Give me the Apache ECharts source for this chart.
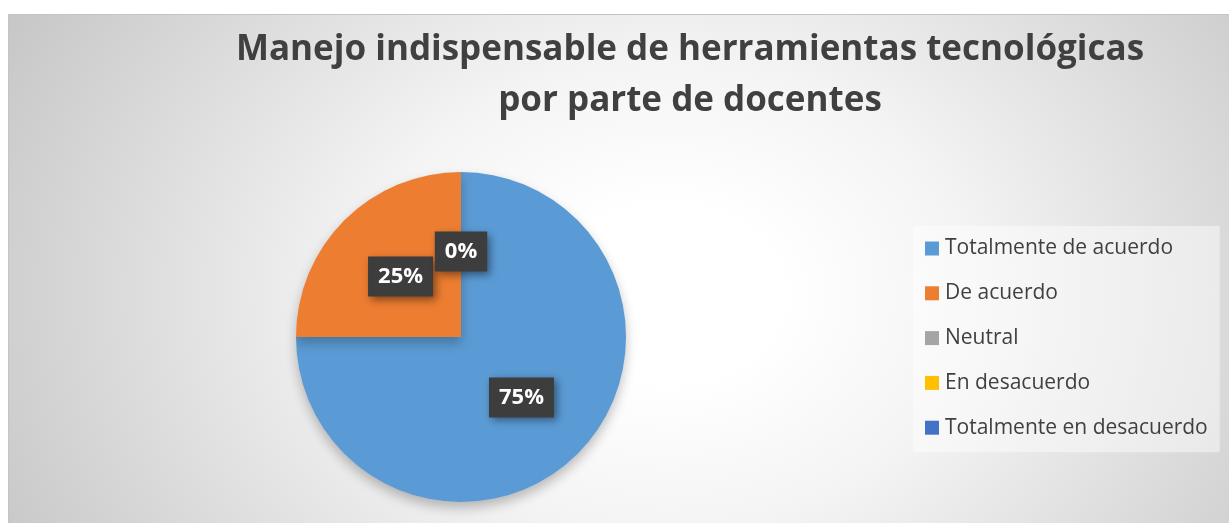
<!DOCTYPE html>
<html>
<head>
<meta charset="utf-8">
<script src="https://cdn.jsdelivr.net/npm/echarts@6/dist/echarts.min.js"></script>
<style>
html,body{margin:0;padding:0;background:#fff;width:1229px;height:523px;overflow:hidden;}
#bg{position:absolute;left:8px;top:14px;width:1221px;height:509px;border-top:1px solid #c4c4c4;border-left:1px solid #c4c4c4;box-sizing:border-box;
background:radial-gradient(ellipse 62% 115% at 54% 55%, #ffffff 15%, #f4f4f4 40%, #c6c6c6 100%);}
#chart{position:absolute;left:0;top:0;width:1229px;height:523px;}
</style>
</head>
<body>
<div id="bg"></div>
<div id="chart"></div>
<script>
const titleLines = ['Manejo indispensable de herramientas tecnológicas', 'por parte de docentes'];
const categories = ['Totalmente de acuerdo', 'De acuerdo', 'Neutral', 'En desacuerdo', 'Totalmente en desacuerdo'];
const values = [75, 25, 0, 0, 0];
const colors = ['#5B9BD5', '#ED7D31', '#A5A5A5', '#FFC000', '#4472C4'];

const chart = echarts.init(document.getElementById('chart'), null, {renderer: 'canvas'});
const data = categories.map((c, i) => ({
  name: c,
  value: values[i],
  label: {show: i < 3}
}));
chart.setOption({
  backgroundColor: 'transparent',
  color: colors,
  title: {
    text: titleLines.join('\n'),
    left: 685,
    top: 20,
    textAlign: 'center',
    textStyle: {
      fontFamily: 'Open Sans',
      fontWeight: 'bold',
      fontSize: 35,
      lineHeight: 51,
      color: '#404040'
    }
  },
  legend: {
    orient: 'vertical',
    left: 913,
    top: 226,
    padding: [12, 12, 14, 12],
    backgroundColor: 'rgba(255,255,255,0.45)',
    icon: 'rect',
    itemWidth: 14,
    itemHeight: 14,
    itemGap: 23.8,
    data: categories,
    textStyle: {
      fontFamily: 'Open Sans',
      fontSize: 21,
      lineHeight: 20,
      color: '#404040',
      padding: [0, 0, 0, 1]
    }
  },
  series: [{
    type: 'pie',
    center: [461, 337],
    radius: [0, 165],
    startAngle: 90,
    clockwise: true,
    data: data,
    avoidLabelOverlap: false,
    itemStyle: {
      shadowBlur: 12,
      shadowOffsetY: 6,
      shadowColor: 'rgba(0,0,0,0.25)'
    },
    emphasis: {disabled: true},
    labelLine: {show: false},
    label: {
      position: 'inside',
      formatter: p => Math.round(p.percent) + '%',
      fontFamily: 'Open Sans',
      fontWeight: 'bold',
      fontSize: 22,
      color: '#ffffff',
      backgroundColor: '#3d3d3d',
      padding: [10, 10, 8, 10],
      shadowBlur: 8,
      shadowOffsetX: 3,
      shadowOffsetY: 3,
      shadowColor: 'rgba(0,0,0,0.45)'
    }
  }]
});
</script>
</body>
</html>
